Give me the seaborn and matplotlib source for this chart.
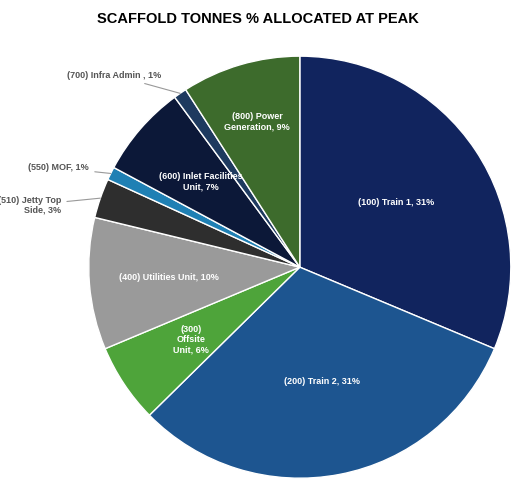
import numpy as np
import matplotlib
matplotlib.use("Agg")
import matplotlib.pyplot as plt
import seaborn as sns

labels = ["(100) Train 1, 31%", "(200) Train 2, 31%", "(300)\nOffsite\nUnit, 6%", "(400) Utilities Unit, 10%",
          "(510) Jetty Top\nSide, 3%", "(550) MOF, 1%", "(600) Inlet Facilities\nUnit, 7%",
          "(700) Infra Admin , 1%", "(800) Power\nGeneration, 9%"]
values = [31, 31, 6, 10, 3, 1, 7, 1, 9]
colors = ["#11245e", "#1d5590", "#4ea43a", "#9a9a9a", "#2e2e2e", "#1f80b4", "#0c1838", "#1e3a5f", "#3d6b2c"]
dist = [0.55, 0.55, 0.62, 0.62, None, None, 0.62, None, 0.72]
outside = {4: (0.118, 0.576), 5: (0.172, 0.653), 7: (0.312, 0.845)}

sns.set_theme(style="white")
plt.rcParams['font.family'] = ['Liberation Sans', 'DejaVu Sans']
fig = plt.figure(figsize=(5.16, 4.84), dpi=100)
ax = fig.add_axes([0.581 - 0.409, 0.448 - 0.436, 0.818, 0.872])
wedges, _ = ax.pie(values, colors=colors, startangle=90, counterclock=False,
                   wedgeprops=dict(edgecolor="white", linewidth=1))
ax.set_aspect("equal")
ax.set_xlim(-1, 1); ax.set_ylim(-1, 1)
for i, w in enumerate(wedges):
    ang = np.deg2rad((w.theta1 + w.theta2) / 2)
    if dist[i] is not None:
        d = dist[i]
        ax.text(d * np.cos(ang), d * np.sin(ang), labels[i], color="white", fontsize=6.5,
                fontweight="bold", ha="center", va="center")
for i, (fx, fy) in outside.items():
    w = wedges[i]
    ang = np.deg2rad((w.theta1 + w.theta2) / 2)
    x0, y0 = np.cos(ang), np.sin(ang)
    ax.annotate(labels[i], xy=(x0, y0), xytext=(fx, fy), textcoords="figure fraction",
                fontsize=6.5, color="#555555", fontweight="bold",
                ha="right", va="center", annotation_clip=False,
                arrowprops=dict(arrowstyle="-", color="#999999", lw=0.8, shrinkA=2, shrinkB=0))
fig.text(0.5, 0.975, "SCAFFOLD TONNES % ALLOCATED AT PEAK", ha="center", va="top",
         fontsize=10.5, fontweight="bold", color="black")
fig.savefig("out.png", dpi=100)
